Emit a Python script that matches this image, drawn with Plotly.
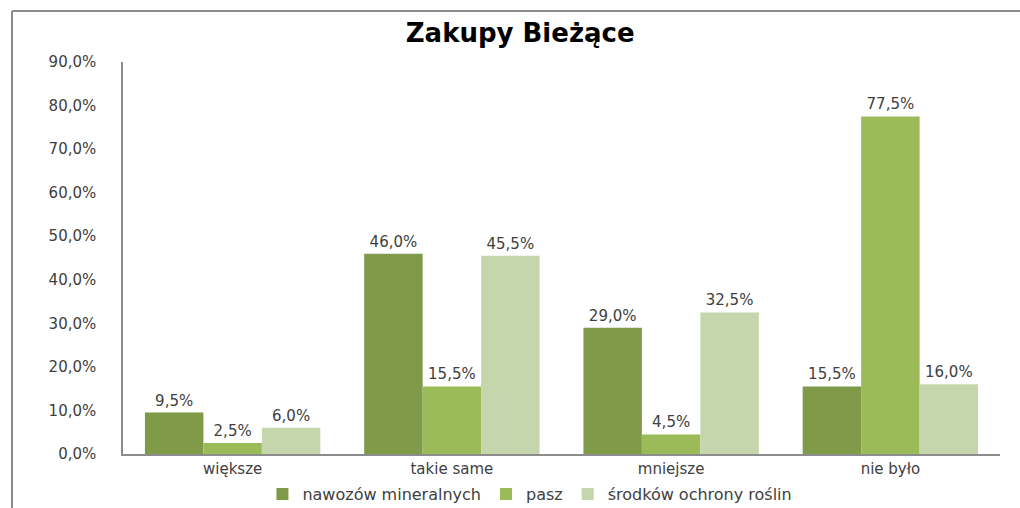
import plotly.graph_objects as go

# ── Data ──────────────────────────────────────────────────────────────
categories = ["większe", "takie same", "mniejsze", "nie było"]
nawozow = [9.5, 46.0, 29.0, 15.5]
pasz = [2.5, 15.5, 4.5, 77.5]
srodkow = [6.0, 45.5, 32.5, 16.0]

series = [
    ("nawozów mineralnych", nawozow, "#7f9a48"),
    ("pasz", pasz, "#9bbb59"),
    ("środków ochrony roślin", srodkow, "#c6d6ac"),
]

FONT = "DejaVu Sans, Verdana, sans-serif"


def pct(v):
    return f"{v:.1f}".replace(".", ",") + "%"


fig = go.Figure()
for name, vals, color in series:
    fig.add_trace(go.Bar(
        x=categories, y=vals, name=name,
        marker=dict(color=color, line_width=0),
        text=[pct(v) for v in vals], textposition="outside",
        textfont=dict(family=FONT, size=15, color="#404040"),
        cliponaxis=False,
    ))

fig.update_layout(
    width=1020, height=508,
    paper_bgcolor="white", plot_bgcolor="white",
    margin=dict(l=123, r=20, t=62, b=54, autoexpand=False),
    barmode="group", bargap=0.2, bargroupgap=0,
    font=dict(family=FONT, size=15, color="#404040"),
    title=dict(text="<b>Zakupy Bieżące</b>", x=0.51, xanchor="center",
               y=1 - 33 / 508, yanchor="middle", yref="container",
               font=dict(family=FONT, size=26, color="black")),
    showlegend=True,
    legend=dict(orientation="h", x=0.464, xanchor="center", y=-0.102,
                yanchor="middle", font=dict(family=FONT, size=16, color="#404040"),
                itemwidth=30, traceorder="normal"),
    xaxis=dict(showline=True, linecolor="#8c8c8c", linewidth=1.5,
               showgrid=False, ticks="", tickfont=dict(size=15)),
    yaxis=dict(range=[0, 90], dtick=10, tickformat=".1f", ticksuffix="%",
               showline=True, linecolor="#8c8c8c", linewidth=1.5,
               showgrid=False, zeroline=False, ticks="",
               ticklabelstandoff=22, tickfont=dict(size=15)),
    separators=", ",
)

# outer chart frame (top and left edges visible)
fig.add_shape(type="line", xref="paper", yref="paper",
              x0=(12 - 123) / 877, x1=1.03, y0=1 + 51 / 392, y1=1 + 51 / 392,
              line=dict(color="#8c8c8c", width=2))
fig.add_shape(type="line", xref="paper", yref="paper",
              x0=(12 - 123) / 877, x1=(12 - 123) / 877, y0=1 + 51 / 392, y1=-0.15,
              line=dict(color="#8c8c8c", width=2))

fig.write_html("out.html", config={"displayModeBar": False},
               post_script="document.body.style.margin='0';")
